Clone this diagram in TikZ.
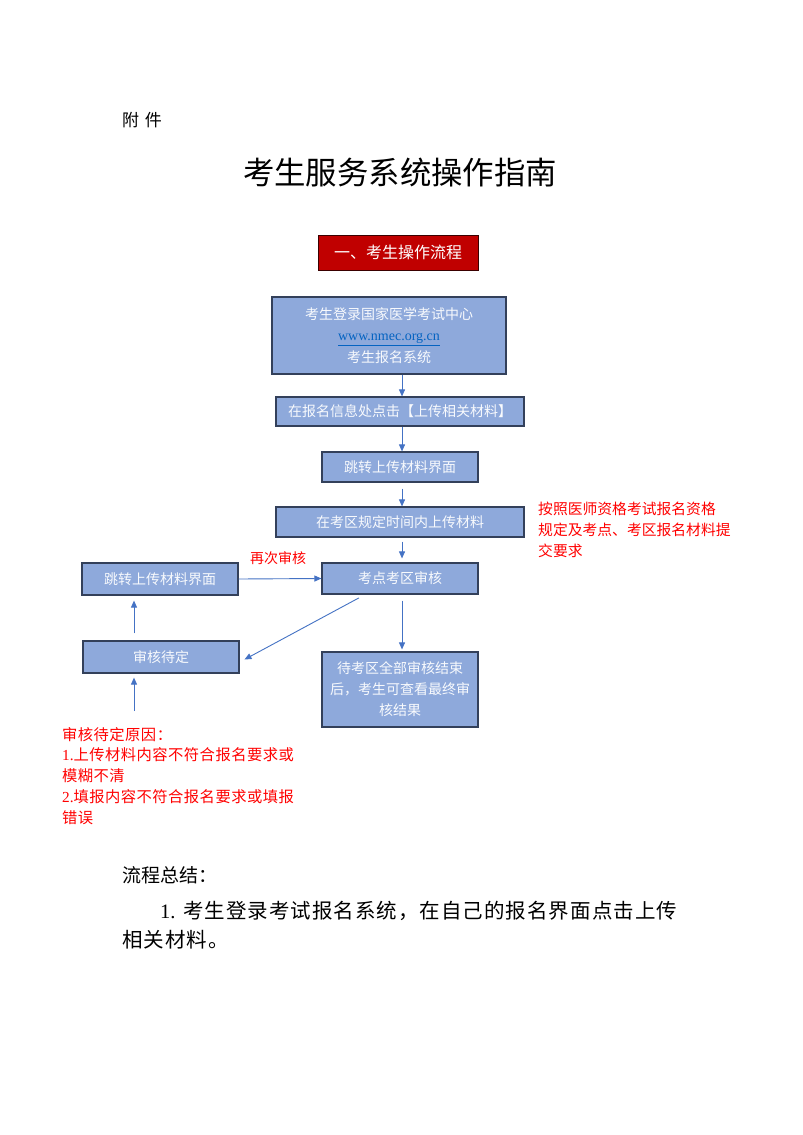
\documentclass[tikz,border=0pt]{standalone}
\usepackage{fontspec}
\setmainfont{Noto Sans CJK SC}
\newfontfamily\lserif{Liberation Serif}
\usetikzlibrary{arrows.meta}
\definecolor{boxblue}{HTML}{8EA9DB}
\definecolor{boxline}{HTML}{33405A}
\definecolor{arrblue}{HTML}{4472C4}
\definecolor{hdrred}{HTML}{C00000}
\definecolor{notered}{HTML}{FF0000}
\definecolor{linkblue}{HTML}{0563C1}
\tikzset{
  box/.style={draw=boxline, fill=boxblue, line width=1.2pt, text=white!94!boxblue,
    font=\fontsize{14}{21.5}\selectfont, align=center, inner sep=0pt},
  hdr/.style={draw=black!70!hdrred, fill=hdrred, line width=1pt, text=white,
    font=\fontsize{16}{18}\selectfont, inner sep=0pt, minimum width=160pt, minimum height=35pt},
  note/.style={text=notered, align=left, inner sep=0pt, anchor=north west},
  arr/.style={draw=arrblue, line width=0.9pt, -{Triangle[length=7pt,width=6pt]}},
}
\begin{document}
\begin{tikzpicture}[x=1pt, y=-1pt]
  \useasboundingbox[fill=white] (0,0) rectangle (803,1135);
  % page heading
  \node[anchor=west, inner sep=0pt, font=\fontsize{17}{20}\selectfont] (annex) at (122,120) {附\,\,件};
  \node[inner sep=0pt, font=\fontsize{31.4}{34}\selectfont] (title) at (400,173) {考生服务系统操作指南};
  \node[hdr] (head) at (398,252.5) {一、考生操作流程};
  % main flow
  \node[box, minimum width=234pt, minimum height=77pt] (login) at (389,335.5)
    {考生登录国家医学考试中心\\{\lserif\color{linkblue}\underline{www.nmec.org.cn}}\\考生报名系统};
  \node[box, minimum width=248pt, minimum height=29pt] (click) at (400,411.5) {在报名信息处点击【上传相关材料】};
  \node[box, minimum width=156pt, minimum height=30pt] (jump) at (400,467) {跳转上传材料界面};
  \node[box, minimum width=248pt, minimum height=30pt] (upload) at (400,522) {在考区规定时间内上传材料};
  \node[box, minimum width=156pt, minimum height=31pt] (check) at (400,578.5) {考点考区审核};
  \node[box, minimum width=156pt, minimum height=32pt] (rejump) at (160,579) {跳转上传材料界面};
  \node[box, minimum width=156pt, minimum height=32pt] (pending) at (161,657) {审核待定};
  \node[box, minimum width=156pt, minimum height=75pt, font=\fontsize{14}{21}\selectfont] (result) at (400,689.5)
    {待考区全部审核结束\\后，考生可查看最终审\\核结果};
  % notes
  \node[note, font=\fontsize{14.8}{21}\selectfont] (rule) at (538,501.5)
    {按照医师资格考试报名资格\\规定及考点、考区报名材料提\\交要求};
  \node[note, anchor=south, font=\fontsize{14}{16}\selectfont] (again) at (278,565) {再次审核};
  \node[note, font=\fontsize{15.3}{20.8}\selectfont\addfontfeature{LetterSpace=3}] (reason) at (62,727)
    {审核待定原因：\\{\lserif 1.}上传材料内容不符合报名要求或\\模糊不清\\{\lserif 2.}填报内容不符合报名要求或填报\\错误};
  \coordinate (rsn) at (134,711);
  % arrows
  \draw[arr] ([xshift=13pt]login.south) -- ([xshift=2pt]click.north);
  \draw[arr] ([xshift=2pt]click.south) -- ([xshift=2pt]jump.north);
  \draw[arr, shorten <=6pt] ([xshift=2pt]jump.south) -- ([xshift=2pt]upload.north);
  \draw[arr, shorten <=4pt, shorten >=4pt] ([xshift=2pt]upload.south) -- ([xshift=2pt]check.north);
  \draw[arr] (rejump.east) -- (check.west);
  \draw[arr, shorten <=7pt, shorten >=1pt] ([xshift=-35pt]check.south) -- ([xshift=4pt,yshift=-3pt]pending.east);
  \draw[arr, shorten <=6pt, shorten >=2pt] ([xshift=2pt]check.south) -- ([xshift=2pt]result.north);
  \draw[arr, shorten <=7pt, shorten >=5pt] ([xshift=-27pt]pending.north) -- ([xshift=-26pt]rejump.south);
  \draw[arr, shorten >=4pt] (rsn) -- ([xshift=-27pt]pending.south);
  % summary
  \node[anchor=west, inner sep=0pt, font=\fontsize{19}{22}\selectfont] (sumhead) at (122,875) {流程总结：};
  \node[anchor=west, inner sep=0pt, font=\fontsize{20.5}{24}\selectfont\addfontfeature{LetterSpace=5}] (sum1) at (160,911)
    {{\lserif 1.} 考生登录考试报名系统，在自己的报名界面点击上传};
  \node[anchor=west, inner sep=0pt, font=\fontsize{20.5}{24}\selectfont\addfontfeature{LetterSpace=5}] (sum2) at (122,940) {相关材料。};
\end{tikzpicture}
\end{document}
